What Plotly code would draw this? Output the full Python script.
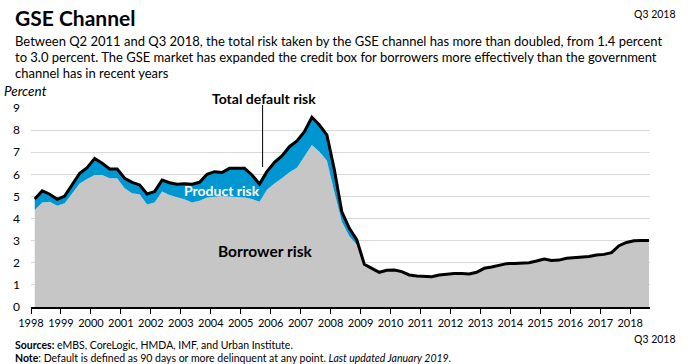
import plotly.graph_objects as go

years = list(range(1998, 2019))
quarters = [f"{y}Q{q}" for y in range(1998, 2019) for q in range(1, 5)][:83]

borrower = [
    4.39, 4.73, 4.76, 4.58,   # 1998
    4.69, 5.14, 5.59, 5.79,   # 1999
    5.97, 5.97, 5.82, 5.82,   # 2000
    5.37, 5.14, 5.10, 4.64,   # 2001
    4.73, 5.22, 5.07, 4.96,   # 2002
    4.87, 4.73, 4.80, 4.95,   # 2003
    5.00, 5.02, 5.00, 4.98,   # 2004
    4.95, 4.88, 4.76, 5.30,   # 2005
    5.59, 5.82, 6.09, 6.30,   # 2006
    6.80, 7.33, 7.02, 6.62,   # 2007
    5.20, 3.86, 3.20, 2.82,   # 2008
    1.89, 1.71, 1.53, 1.62,   # 2009
    1.63, 1.56, 1.41, 1.36,   # 2010
    1.36, 1.33, 1.41, 1.45,   # 2011
    1.47, 1.47, 1.45, 1.53,   # 2012
    1.71, 1.77, 1.83, 1.92,   # 2013
    1.93, 1.93, 1.96, 2.04,   # 2014
    2.13, 2.06, 2.08, 2.16,   # 2015
    2.19, 2.19, 2.24, 2.31,   # 2016
    2.34, 2.42, 2.73, 2.88,   # 2017
    2.96, 2.97, 2.97,         # 2018
]
product = [
    0.49, 0.52, 0.34, 0.29,
    0.33, 0.38, 0.46, 0.51,
    0.75, 0.53, 0.42, 0.42,
    0.45, 0.50, 0.42, 0.47,
    0.49, 0.52, 0.55, 0.59,
    0.70, 0.82, 0.84, 1.05,
    1.12, 1.06, 1.27, 1.29,
    1.32, 1.09, 0.80, 0.82,
    0.95, 1.01, 1.16, 1.21,
    1.13, 1.25, 1.21, 1.16,
    1.00, 0.44, 0.36, 0.21,
    0.04, 0.04, 0.04, 0.04,
    0.04, 0.04, 0.04, 0.04,
    0.04, 0.04, 0.04, 0.04,
    0.04, 0.04, 0.04, 0.04,
    0.04, 0.04, 0.04, 0.04,
    0.04, 0.04, 0.04, 0.04,
    0.04, 0.04, 0.04, 0.04,
    0.04, 0.04, 0.04, 0.04,
    0.04, 0.04, 0.04, 0.04,
    0.04, 0.04, 0.04,
]

# quarter midpoints on a continuous year axis
xq = [int(q[:4]) + (int(q[-1]) - 0.5) / 4 for q in quarters]

GRAY = "#c6c6c6"
BLUE = "#0096d2"
FONT = "Lato"

W, H = 688, 364
L, T = 31, 108
R = W - 650
B = H - 307
PW, PH = W - L - R, H - T - B

fig = go.Figure()
fig.add_trace(go.Scatter(
    x=xq, y=borrower, mode="lines", stackgroup="s",
    line=dict(width=0, color=GRAY), fillcolor=GRAY, name="Borrower risk",
    hoverinfo="skip",
))
fig.add_trace(go.Scatter(
    x=xq, y=product, mode="lines", stackgroup="s",
    line=dict(width=0, color=BLUE), fillcolor=BLUE, name="Product risk",
    hoverinfo="skip",
))
total = [b + p for b, p in zip(borrower, product)]
fig.add_trace(go.Scatter(
    x=xq, y=total, mode="lines",
    line=dict(width=3, color="black"), name="Total default risk",
    hoverinfo="skip",
))

fig.update_layout(
    width=W, height=H,
    margin=dict(l=L, r=R, t=T, b=B, pad=0),
    paper_bgcolor="white", plot_bgcolor="white",
    showlegend=False,
    font=dict(family=FONT, color="black", size=12),
    xaxis=dict(
        range=[1998, 2018.66], tickvals=years, ticktext=[str(y) for y in years],
        showgrid=False, ticks="outside", ticklen=5, tickwidth=1, tickcolor="black",
        showline=True, linecolor="black", linewidth=1.5, automargin=False,
        tickfont=dict(size=11, family=FONT), zeroline=False,
    ),
    yaxis=dict(
        range=[0, 9], dtick=1, showgrid=True, gridcolor="#d9d9d9", gridwidth=1,
        zeroline=False, showline=False, ticks="", automargin=False,
        tickfont=dict(size=12, family=FONT), ticklabelstandoff=10,
    ),
)


def px_to_paper(px, py):
    return (px - L) / PW, (H - B - py) / PH


page_texts = [
    dict(text="<b>GSE Channel</b>", x=13, y=3, size=21, anchor="left"),
    dict(text="Between Q2 2011 and Q3 2018, the total risk taken by the GSE channel has more than doubled, from 1.4 percent",
         x=13, y=31, size=13, anchor="left"),
    dict(text="to 3.0 percent. The GSE market has expanded the credit box for borrowers more effectively than the government",
         x=13, y=47, size=13, anchor="left"),
    dict(text="channel has in recent years", x=13, y=63, size=13, anchor="left"),
    dict(text="<i>Percent</i>", x=2, y=81, size=13.5, anchor="left"),
    dict(text="Q3 2018", x=678, y=6, size=10.5, anchor="right"),
    dict(text="Q3 2018", x=678, y=331, size=10.5, anchor="right"),
    dict(text="<b>Sources:</b> eMBS, CoreLogic, HMDA, IMF, and Urban Institute.", x=13, y=337, size=10.5, anchor="left"),
    dict(text="<b>Note</b>: Default is defined as 90 days or more delinquent at any point. <i>Last updated January 2019.</i>",
         x=13, y=350, size=10.5, anchor="left"),
    dict(text="<b>Total default risk</b>", x=264, y=88, size=14, anchor="center"),
]
for a in page_texts:
    xp, yp = px_to_paper(a["x"], a["y"])
    fig.add_annotation(text=a["text"], xref="paper", yref="paper", x=xp, y=yp,
                       xanchor=a["anchor"], yanchor="top", showarrow=False,
                       font=dict(size=a["size"], family=FONT, color="black"))

fig.add_annotation(text="<b>Product risk</b>", x=2004.37, y=5.29, xref="x", yref="y",
                   showarrow=False, font=dict(size=14, family=FONT, color="white"))
fig.add_annotation(text="<b>Borrower risk</b>", x=2005.8, y=2.53, xref="x", yref="y",
                   showarrow=False, font=dict(size=15.5, family=FONT, color="black"))
_, ly0 = px_to_paper(0, 105)
_, ly1 = px_to_paper(0, 167)
fig.add_shape(type="line", x0=2005.73, x1=2005.73, y0=ly0, y1=ly1,
              xref="x", yref="paper", line=dict(color="black", width=1))

fig.write_html(
    "out.html",
    config={"displayModeBar": False, "staticPlot": True},
    post_script="document.body.style.margin='0';document.body.style.padding='0';",
)
